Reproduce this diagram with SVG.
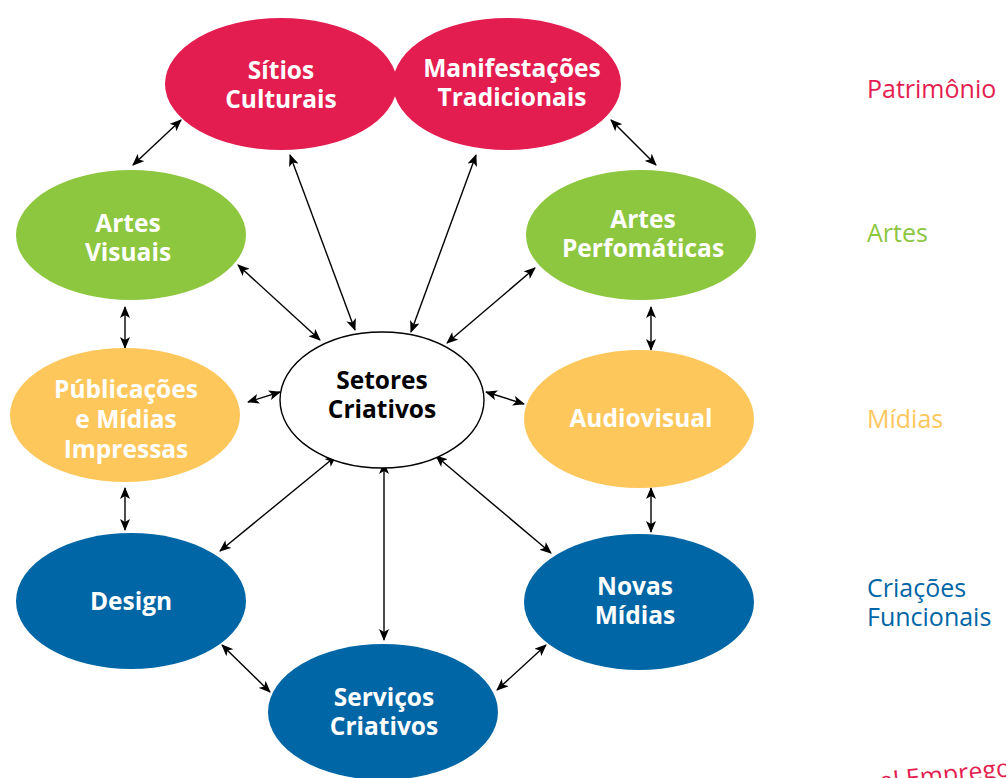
<svg xmlns="http://www.w3.org/2000/svg" width="1006" height="778" viewBox="0 0 1006 778">
<defs>
<marker id="ah" viewBox="0 0 12 10" refX="11" refY="5" markerWidth="12" markerHeight="10" markerUnits="userSpaceOnUse" orient="auto-start-reverse">
<path d="M0,0 L12,5 L0,10 L3,5 Z" fill="#000"/>
</marker>
</defs>
<style>
.t{font-family:"Open Sans","Liberation Sans",sans-serif;font-weight:bold;font-size:24.5px;fill:#fff;text-anchor:middle}
.tb{fill:#000}
.lab{font-family:"Open Sans","Liberation Sans",sans-serif;font-size:25px}
.c line{stroke:#000;stroke-width:1.4;marker-start:url(#ah);marker-end:url(#ah)}
.red{fill:#E31D4F}.grn{fill:#8DC63F}.yel{fill:#FEC75C}.blu{fill:#0066A6}
</style>
<g class="c" id="connectors">
<line x1="181" y1="120" x2="133" y2="165"/>
<line x1="611" y1="120" x2="656" y2="165"/>
<line x1="290" y1="155" x2="355" y2="330"/>
<line x1="476" y1="155" x2="411" y2="332"/>
<line x1="238" y1="265" x2="320" y2="340"/>
<line x1="535" y1="268" x2="447" y2="343"/>
<line x1="125" y1="307" x2="125" y2="348"/>
<line x1="651" y1="307" x2="651" y2="350"/>
<line x1="248" y1="402" x2="280" y2="392"/>
<line x1="486" y1="392" x2="524" y2="404"/>
<line x1="125" y1="488" x2="125" y2="530"/>
<line x1="651" y1="488" x2="651" y2="532"/>
<line x1="336" y1="456" x2="220" y2="551"/>
<line x1="436" y1="456" x2="551" y2="553"/>
<line x1="384" y1="463" x2="384" y2="640"/>
<line x1="222" y1="645" x2="270" y2="692"/>
<line x1="546" y1="645" x2="497" y2="690"/>
</g>
<g id="sitios"><ellipse cx="281" cy="84" rx="116" ry="66" class="red"/><text class="t" x="281" y="79">Sítios</text><text class="t" x="281" y="108">Culturais</text></g>
<g id="manifestacoes"><ellipse cx="507" cy="84" rx="114" ry="66" class="red"/><text class="t" x="512" y="77">Manifestações</text><text class="t" x="512" y="106">Tradicionais</text></g>
<g id="artes-visuais"><ellipse cx="131" cy="235" rx="115" ry="65" class="grn"/><text class="t" x="128" y="232">Artes</text><text class="t" x="128" y="261">Visuais</text></g>
<g id="artes-perfomaticas"><ellipse cx="641" cy="235" rx="115" ry="65" class="grn"/><text class="t" x="643" y="228">Artes</text><text class="t" x="643" y="257">Perfomáticas</text></g>
<g id="publicacoes"><ellipse cx="125" cy="415" rx="115" ry="67" class="yel"/><text class="t" x="126" y="398">Públicações</text><text class="t" x="126" y="428">e Mídias</text><text class="t" x="126" y="458">Impressas</text></g>
<g id="setores"><ellipse cx="382" cy="400" rx="102" ry="68" fill="#fff" stroke="#000" stroke-width="1.4"/><text class="t tb" x="382" y="389">Setores</text><text class="t tb" x="382" y="418">Criativos</text></g>
<g id="audiovisual"><ellipse cx="639" cy="419" rx="115" ry="69" class="yel"/><text class="t" x="641" y="427">Audiovisual</text></g>
<g id="design"><ellipse cx="131" cy="601" rx="115" ry="68" class="blu"/><text class="t" x="131" y="610">Design</text></g>
<g id="novas-midias"><ellipse cx="639" cy="602" rx="115" ry="68" class="blu"/><text class="t" x="635" y="595">Novas</text><text class="t" x="635" y="624">Mídias</text></g>
<g id="servicos"><ellipse cx="383" cy="712" rx="115" ry="68" class="blu"/><text class="t" x="384" y="706">Serviços</text><text class="t" x="384" y="735">Criativos</text></g>
<g id="legend">
<text class="lab" x="867" y="98" fill="#E31D4F">Patrimônio</text>
<text class="lab" x="867" y="242" fill="#8DC63F">Artes</text>
<text class="lab" x="867" y="428" fill="#FEC75C">Mídias</text>
<text class="lab" x="867" y="597" fill="#0066A6">Criações</text>
<text class="lab" x="867" y="626" fill="#0066A6">Funcionais</text>
<text class="lab" x="880" y="790" fill="#E31D4F" transform="rotate(-6 880 790)">e! Emprego</text>
</g>
</svg>
